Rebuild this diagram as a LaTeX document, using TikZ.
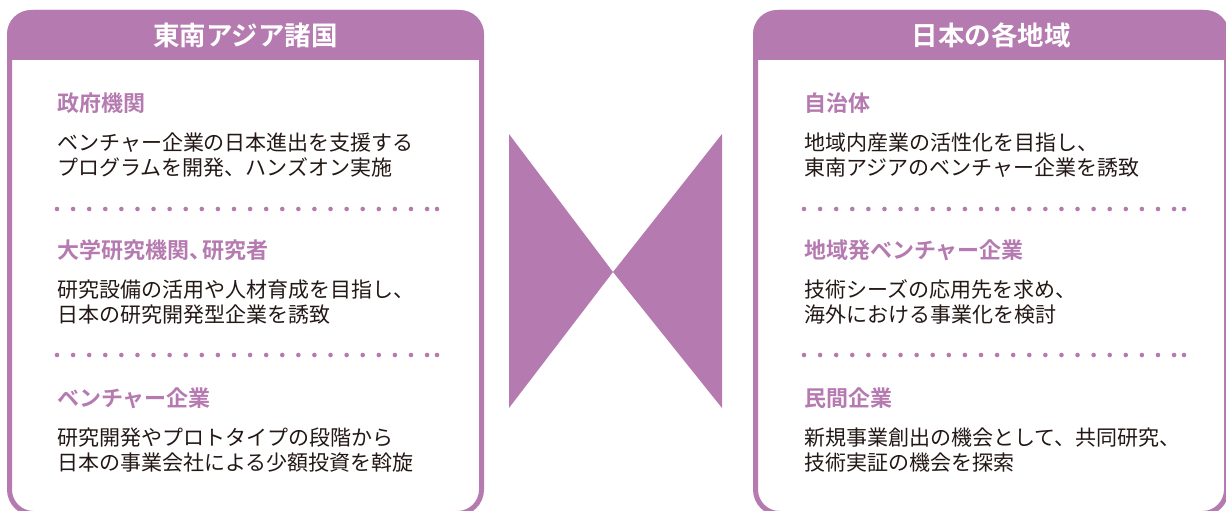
\documentclass[tikz,border=0pt]{standalone}
\usepackage{fontspec}
\usepackage{tikz}
\newfontfamily\jpfont{Noto Sans CJK JP}[BoldFont={Noto Sans CJK JP Bold}]
\definecolor{orchid}{RGB}{181,122,176}
\definecolor{ink}{RGB}{35,24,21}

\begin{document}
\begin{tikzpicture}[x=1pt,y=-1pt,
    panel/.style={draw=orchid,line width=5pt,rounded corners=24pt},
    headtext/.style={text=white,font=\jpfont\bfseries\fontsize{26.5}{30}\selectfont},
    subhead/.style={anchor=west,inner sep=0pt,text=orchid,font=\jpfont\bfseries\fontsize{22}{26}\selectfont},
    bodytext/.style={anchor=west,inner sep=0pt,align=left,text=ink,font=\jpfont\fontsize{21}{25.5}\selectfont}]
    \useasboundingbox (0,0) rectangle (1226,511);
    \clip (0,0) rectangle (1226,511);

    % panel headers
    \fill[orchid,rounded corners=24pt] (7,10) rectangle (484,60);
    \fill[orchid] (7,40) rectangle (484,60);
    \fill[orchid,rounded corners=24pt] (753,10) rectangle (1229,60);
    \fill[orchid] (753,40) rectangle (1229,60);
    \draw[panel] (9.5,12.5) rectangle (481.5,513.5);
    \draw[panel] (755.5,12.5) rectangle (1226.5,513.5);

    % dotted separators
    \foreach \x in {57,804}
      \foreach \y in {209,355} {
        \foreach \i in {0,...,23}
          \fill[orchid] (\x+16.09*\i,\y) circle (2.3pt);
        \fill[orchid] (\x+380,\y) circle (2.3pt);
      }

    % bow tie in the middle
    \fill[orchid] (509,134) -- (509,408) -- (613,272) -- cycle;
    \fill[orchid] (722,134) -- (722,408) -- (613,272) -- cycle;

    % left panel
    \node[headtext] (asia) at (245.5,35) {東南アジア諸国};
    \node[subhead] (gov) at (57,103) {政府機関};
    \node[bodytext] (govtext) at (57,155) {ベンチャー企業の日本進出を支援する\\プログラムを開発、ハンズオン実施};
    \node[subhead] (univ) at (57,250) {大学研究機関、\kern-0.4em 研究者};
    \node[bodytext] (univtext) at (57,302) {研究設備の活用や人材育成を目指し、\\日本の研究開発型企業を誘致};
    \node[subhead] (vent) at (57,398) {ベンチャー企業};
    \node[bodytext] (venttext) at (57,450) {研究開発やプロトタイプの段階から\\日本の事業会社による少額投資を斡旋};

    % right panel
    \node[headtext] (japan) at (991,35) {日本の各地域};
    \node[subhead] (local) at (804,103) {自治体};
    \node[bodytext] (localtext) at (804,155) {地域内産業の活性化を目指し、\\東南アジアのベンチャー企業を誘致};
    \node[subhead] (regvent) at (804,250) {地域発ベンチャー企業};
    \node[bodytext] (regventtext) at (804,302) {技術シーズの応用先を求め、\\海外における事業化を検討};
    \node[subhead] (corp) at (804,398) {民間企業};
    \node[bodytext] (corptext) at (804,450) {新規事業創出の機会として、共同研究、\\技術実証の機会を探索};
\end{tikzpicture}
\end{document}
